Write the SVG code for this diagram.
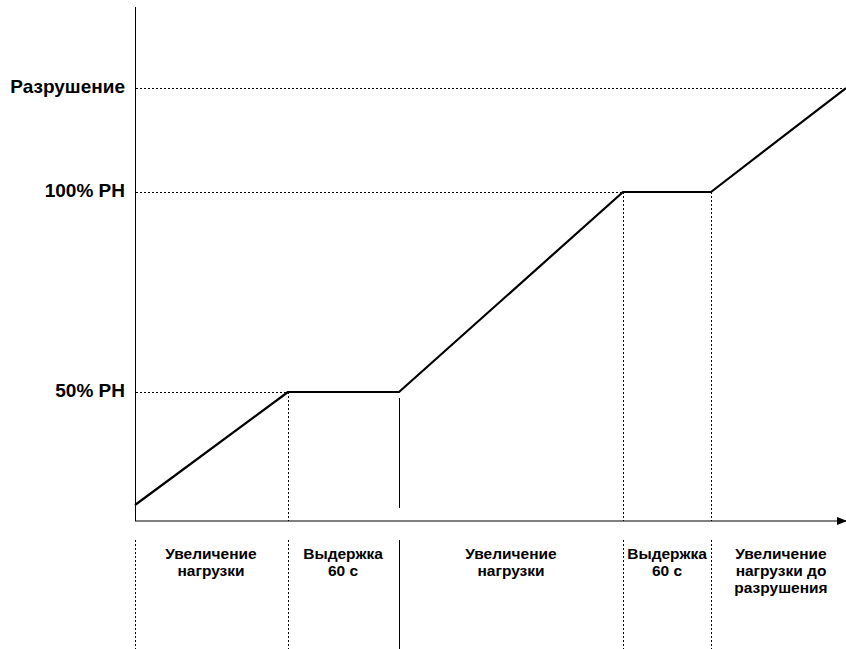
<svg xmlns="http://www.w3.org/2000/svg" width="846" height="649" viewBox="0 0 846 649">
<style>
.lbl{font-family:"Liberation Sans",Arial,sans-serif;font-weight:bold;font-size:19px;fill:#000}
.ph{font-family:"Liberation Sans",Arial,sans-serif;font-weight:bold;font-size:15.5px;fill:#000;text-anchor:middle}
.dot{stroke:#000;stroke-width:1;stroke-dasharray:2,2;fill:none}
.solid{stroke:#000;stroke-width:1;fill:none}
.curve{stroke:#000;stroke-width:2.2;fill:none;stroke-linejoin:round}
</style>
<defs>
<marker id="arr" markerWidth="10" markerHeight="8" refX="9" refY="4" orient="auto" markerUnits="userSpaceOnUse">
<path d="M0,0 L10,4 L0,8 z" fill="#000"/>
</marker>
</defs>
<rect width="846" height="649" fill="#fff"/>
<g id="axes">
<line class="solid" x1="135.5" y1="7" x2="135.5" y2="521" stroke-width="1.5"/>
<line class="solid" x1="135" y1="521" x2="846" y2="521" stroke-width="1.3" marker-end="url(#arr)"/>
</g>
<g id="levels">
<line class="dot" x1="136" y1="88.5" x2="846" y2="88.5"/>
<line class="dot" x1="136" y1="192.5" x2="623" y2="192.5"/>
<line class="dot" x1="136" y1="392.5" x2="288" y2="392.5"/>
<text class="lbl" x="125" y="93" text-anchor="end">Разрушение</text>
<text class="lbl" x="125" y="197" text-anchor="end">100% PH</text>
<text class="lbl" x="125" y="397" text-anchor="end">50% PH</text>
</g>
<g id="connectors">
<line class="dot" x1="288.5" y1="392" x2="288.5" y2="521"/>
<line class="dot" x1="623.5" y1="192" x2="623.5" y2="521"/>
<line class="dot" x1="711.5" y1="192" x2="711.5" y2="521"/>
<line class="solid" x1="399.5" y1="398" x2="399.5" y2="508"/>
<line class="dot" x1="135.5" y1="540" x2="135.5" y2="649"/>
<line class="dot" x1="288.5" y1="540" x2="288.5" y2="649"/>
<line class="solid" x1="399.5" y1="540" x2="399.5" y2="649"/>
<line class="dot" x1="623.5" y1="540" x2="623.5" y2="649"/>
<line class="dot" x1="711.5" y1="540" x2="711.5" y2="649"/>
</g>
<g id="curve">
<polyline class="curve" points="135,505 288,392 399,392 623,192 711,192 846,88"/>
</g>
<g id="phase1">
<text class="ph" x="211" y="559">Увеличение</text>
<text class="ph" x="211" y="576">нагрузки</text>
</g>
<g id="phase2">
<text class="ph" x="343" y="559">Выдержка</text>
<text class="ph" x="343" y="576">60 с</text>
</g>
<g id="phase3">
<text class="ph" x="511" y="559">Увеличение</text>
<text class="ph" x="511" y="576">нагрузки</text>
</g>
<g id="phase4">
<text class="ph" x="667" y="559">Выдержка</text>
<text class="ph" x="667" y="576">60 с</text>
</g>
<g id="phase5">
<text class="ph" x="781" y="559">Увеличение</text>
<text class="ph" x="781" y="576">нагрузки до</text>
<text class="ph" x="781" y="593">разрушения</text>
</g>
</svg>
